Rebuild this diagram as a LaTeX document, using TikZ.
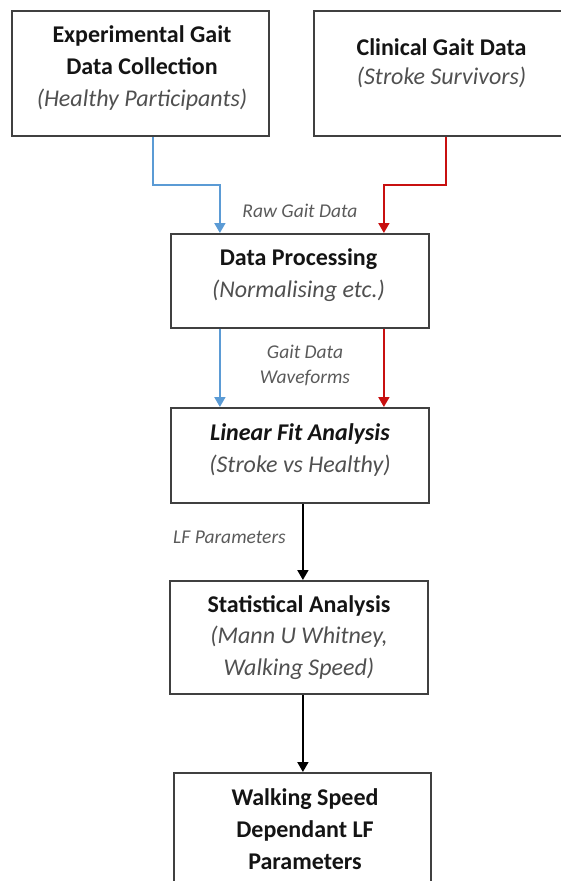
\documentclass[tikz,border=0pt]{standalone}
\usepackage{fontspec}
\setmainfont{Carlito}
\usetikzlibrary{arrows.meta}
\definecolor{boxline}{RGB}{64,64,64}
\definecolor{blueline}{RGB}{91,155,213}
\definecolor{redline}{RGB}{200,16,16}
\definecolor{titletext}{RGB}{20,20,20}
\definecolor{subtext}{RGB}{80,80,80}
\definecolor{labeltext}{RGB}{90,90,90}
\newcommand{\ttlline}[1]{\strut\textbf{\color{titletext}#1}}
\newcommand{\sbtline}[1]{\strut\textit{\color{subtext}#1}}
\begin{document}
\begin{tikzpicture}[x=1pt,y=-1pt,
  box/.style={draw=boxline,line width=1.8pt,inner sep=0pt,anchor=north west},
  boxtext/.style={align=center,inner sep=0pt,font=\fontsize{24}{32}\selectfont},
  flowlabel/.style={inner sep=0pt,align=center,text=labeltext,font=\fontsize{19.5}{25}\selectfont\itshape},
  arr/.style={line width=1.8pt,-{Triangle[width=11pt,length=10pt]}},
  bluearr/.style={arr,draw=blueline,color=blueline},
  redarr/.style={arr,draw=redline,color=redline},
  blackarr/.style={arr,draw=black,color=black}
]
\useasboundingbox (0,0) rectangle (561,881);
\clip (0,0) rectangle (561,881);

% boxes
\node[box,minimum width=257pt,minimum height=125pt] (box1) at (11,10) {};
\node[box,minimum width=264pt,minimum height=125pt] (box2) at (313,10) {};
\node[box,minimum width=258pt,minimum height=94pt] (box3) at (170,233) {};
\node[box,minimum width=258pt,minimum height=95pt] (box4) at (170,407) {};
\node[box,minimum width=258pt,minimum height=113pt] (box5) at (169,580) {};
\node[box,minimum width=257pt,minimum height=130pt] (box6) at (173,772) {};

% box texts
\node[boxtext] (t1) at (142,67.6) {\ttlline{Experimental Gait}\\ \ttlline{Data Collection}\\ \sbtline{(Healthy Participants)}};
\node[boxtext,font=\fontsize{24}{29}\selectfont] (t2) at (441.5,63.7) {\ttlline{Clinical Gait Data}\\ \sbtline{(Stroke Survivors)}};
\node[boxtext] (t3) at (298.5,274.6) {\ttlline{Data Processing}\\ \sbtline{(Normalising etc.)}};
\node[boxtext] (t4) at (300,449.6) {\ttlline{\textit{Linear Fit Analysis}}\\ \sbtline{(Stroke vs Healthy)}};
\node[boxtext,font=\fontsize{24}{31.5}\selectfont] (t5) at (299,637.2) {\ttlline{Statistical Analysis}\\ \sbtline{(Mann U Whitney,}\\ \sbtline{Walking Speed)}};
\node[boxtext] (t6) at (305,830.6) {\ttlline{Walking Speed}\\ \ttlline{Dependant LF}\\ \ttlline{Parameters}};

% flow labels
\node[flowlabel,anchor=base] (l1) at (300,217) {Raw Gait Data};
\node[flowlabel] (l2) at (305,365.5) {\strut Gait Data\\ \strut Waveforms};
\node[flowlabel,anchor=base] (l3) at (229.5,543) {LF Parameters};

% connectors
\draw[bluearr] ([xshift=12.5pt]box1.south) -- ++(0,48) -| ([xshift=-80pt]box3.north);
\draw[redarr] (box2.south) -- ++(0,48) -| ([xshift=84pt]box3.north);
\draw[bluearr] ([xshift=-80pt]box3.south) -- ([xshift=-80pt]box4.north);
\draw[redarr] ([xshift=84pt]box3.south) -- ([xshift=84pt]box4.north);
\draw[blackarr] ([xshift=3pt]box4.south) -- ([xshift=3pt]box4.south |- box5.north);
\draw[blackarr] ([xshift=4pt]box5.south) -- ([xshift=4pt]box5.south |- box6.north);
\end{tikzpicture}
\end{document}
